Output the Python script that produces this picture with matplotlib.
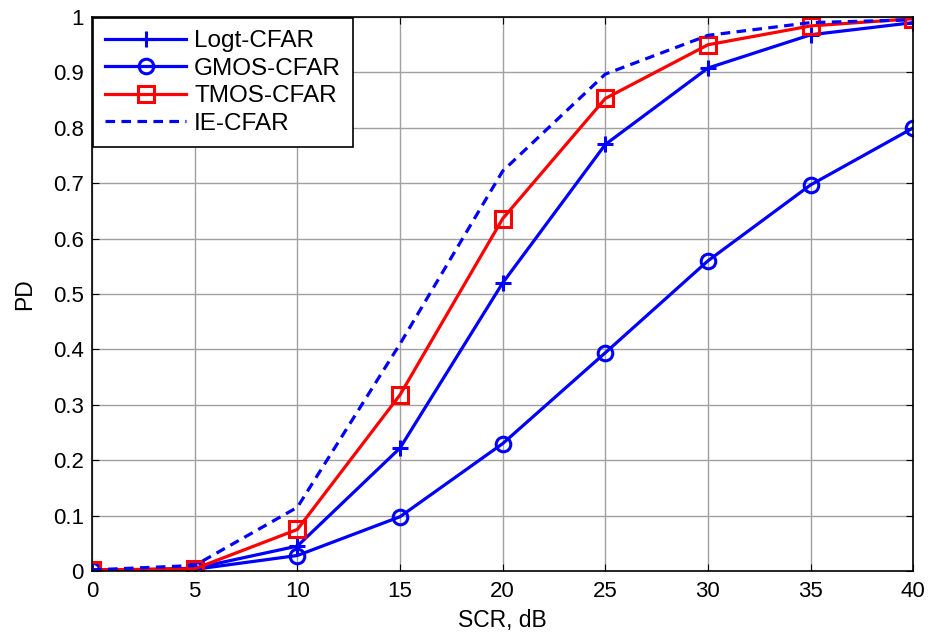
import numpy as np
import matplotlib.pyplot as plt

plt.rcParams['font.family'] = ['Liberation Sans', 'DejaVu Sans']

# data
scr = [0, 5, 10, 15, 20, 25, 30, 35, 40]
pd_logt = [0.0, 0.005, 0.045, 0.222, 0.52, 0.77, 0.908, 0.968, 0.99]
pd_gmos = [0.002, 0.003, 0.028, 0.098, 0.23, 0.394, 0.56, 0.697, 0.80]
pd_tmos = [0.002, 0.004, 0.075, 0.318, 0.636, 0.853, 0.95, 0.984, 0.997]
pd_ie = [0.002, 0.01, 0.115, 0.41, 0.722, 0.897, 0.967, 0.99, 0.995]

fig = plt.figure(figsize=(9.3, 6.32), dpi=100)
ax = fig.add_axes([0.099, 0.0965, 0.883, 0.8765])

ax.plot(scr, pd_logt, color='b', lw=2.3, marker='+', ms=12, mew=2.2, label='Logt-CFAR')
ax.plot(scr, pd_gmos, color='b', lw=2.3, marker='o', ms=10.5, mew=2.2, mfc='none', label='GMOS-CFAR')
ax.plot(scr, pd_tmos, color='r', lw=2.3, marker='s', ms=11, mew=2.2, mfc='none', label='TMOS-CFAR')
ax.plot(scr, pd_ie, color='b', lw=2.3, ls='--', dashes=(3, 2), label='IE-CFAR')

ax.set_xlim(0, 40)
ax.set_ylim(0, 1)
ax.set_xticks(scr)
ax.set_yticks(np.arange(0, 1.01, 0.1))
ax.set_yticklabels(['0', '0.1', '0.2', '0.3', '0.4', '0.5', '0.6', '0.7', '0.8', '0.9', '1'])
ax.grid(True, color='#a0a0a0', lw=1)
ax.tick_params(direction='in', top=True, right=True, labelsize=16, length=5)
ax.tick_params(axis='x', pad=7)
ax.tick_params(axis='y', pad=6)
for s in ax.spines.values():
    s.set_linewidth(1.2)

ax.set_xlabel('SCR, dB', fontsize=16.5, labelpad=5)
ax.set_ylabel('PD', fontsize=16.5, labelpad=12)

leg = ax.legend(loc='upper left', fontsize=17.5, fancybox=False, framealpha=1,
                edgecolor='k', borderaxespad=0.05, handlelength=3.3,
                handletextpad=0.35, labelspacing=0.22, borderpad=0.5)
leg.get_frame().set_linewidth(1.2)

fig.savefig('out.png', dpi=100)
